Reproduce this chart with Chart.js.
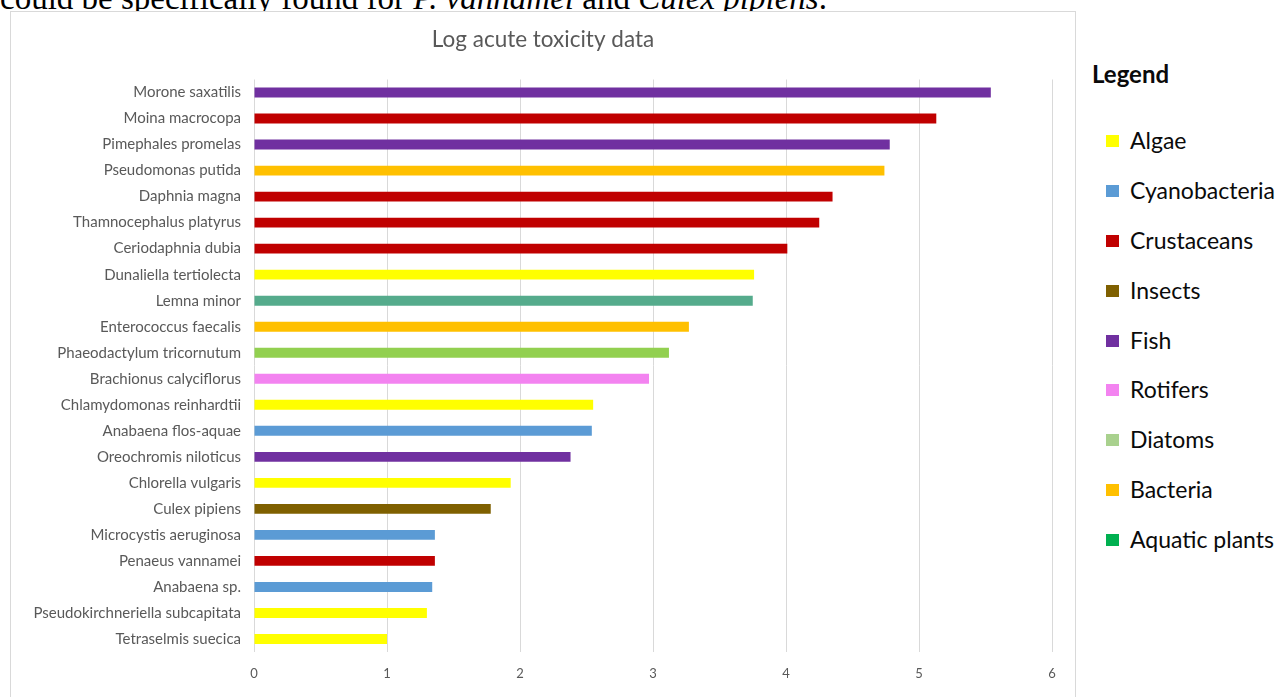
<!DOCTYPE html>
<html>
<head>
<meta charset="utf-8">
<script src="https://cdn.jsdelivr.net/npm/chart.js@4/dist/chart.umd.min.js"></script>
<style>
  html, body { margin: 0; padding: 0; background: #ffffff; overflow: hidden; }
  body { width: 1282px; height: 697px; position: relative; }
  #caption {
    position: absolute; left: 0; top: -17px; white-space: nowrap;
    font-family: "Liberation Serif", "DejaVu Serif", serif; font-size: 33px; line-height: 30px; color: #000;
  }
  #caption i { font-style: italic; }
  #box {
    position: absolute; left: 10px; top: 11px; width: 1064px; height: 700px;
    border: 1px solid #d9d9d9; background: #fff;
  }
  #chart { display: block; }
  #legend {
    position: absolute; left: 1092px; top: 58px;
    font-family: Lato, "Open Sans", sans-serif; color: #0a0a0a;
  }
  #legend h3 { margin: 0; font-size: 24px; font-weight: bold; line-height: 32px; height: 32px; }
  #legend ul { list-style: none; margin: 0; padding: 0; position: absolute; top: 58px; left: 0; }
  #legend li { height: 49.9px; line-height: 49.9px; font-size: 23px; white-space: nowrap; position: relative; padding-left: 38px; }
  #legend li span.sw { position: absolute; left: 14px; top: 19px; width: 13px; height: 12px; }
</style>
</head>
<body>
<div id="caption">could be specifically found for <i>P. vannamei</i> and <i>Culex pipiens</i>.</div>
<div id="box"><canvas id="chart" width="1064" height="685"></canvas></div>
<div id="legend"><h3>Legend</h3><ul id="legendList"></ul></div>
<script>
// Species, ordered from the highest to the lowest log toxicity value
const species = [
  "Morone saxatilis",
  "Moina macrocopa",
  "Pimephales promelas",
  "Pseudomonas putida",
  "Daphnia magna",
  "Thamnocephalus platyrus",
  "Ceriodaphnia dubia",
  "Dunaliella tertiolecta",
  "Lemna minor",
  "Enterococcus faecalis",
  "Phaeodactylum tricornutum",
  "Brachionus calyciflorus",
  "Chlamydomonas reinhardtii",
  "Anabaena flos-aquae",
  "Oreochromis niloticus",
  "Chlorella vulgaris",
  "Culex pipiens",
  "Microcystis aeruginosa",
  "Penaeus vannamei",
  "Anabaena sp.",
  "Pseudokirchneriella subcapitata",
  "Tetraselmis suecica"
];

// Log acute toxicity per species
const logToxicity = [
  5.54, 5.13, 4.78, 4.74, 4.35, 4.25, 4.01, 3.76, 3.75, 3.27, 3.12,
  2.97, 2.55, 2.54, 2.38, 1.93, 1.78, 1.36, 1.36, 1.34, 1.30, 1.00
];

// Bar fill per species (by organism group)
const barColors = [
  "#7030A0", "#C00000", "#7030A0", "#FFC000", "#C00000", "#C00000", "#C00000",
  "#FFFF00", "#55AB8C", "#FFC000", "#92D050", "#F383F0", "#FFFF00", "#5B9BD5",
  "#7030A0", "#FFFF00", "#7F6000", "#5B9BD5", "#C00000", "#5B9BD5", "#FFFF00",
  "#FFFF00"
];

// Organism groups shown in the legend
const groupNames = [
  "Algae", "Cyanobacteria", "Crustaceans", "Insects", "Fish",
  "Rotifers", "Diatoms", "Bacteria", "Aquatic plants"
];
const groupColors = [
  "#FFFF00", "#5B9BD5", "#C00000", "#7F6000", "#7030A0",
  "#F383F0", "#A9D18E", "#FFC000", "#00B050"
];

// Value axis range
const axisMin = 0;
const axisMax = 6;
const axisStep = 1;

const list = document.getElementById("legendList");
groupNames.forEach((name, i) => {
  const li = document.createElement("li");
  const sw = document.createElement("span");
  sw.className = "sw";
  sw.style.background = groupColors[i];
  li.appendChild(sw);
  li.appendChild(document.createTextNode(name));
  list.appendChild(li);
});

const textGrey = "#595959";
const gridGrey = "#d9d9d9";

new Chart(document.getElementById("chart"), {
  type: "bar",
  data: {
    labels: species,
    datasets: [{
      data: logToxicity,
      backgroundColor: barColors,
      borderWidth: 0,
      barPercentage: 0.38,
      categoryPercentage: 1.0
    }]
  },
  options: {
    indexAxis: "y",
    responsive: false,
    animation: false,
    devicePixelRatio: 1,
    layout: { padding: { left: 23, right: 23, top: 0, bottom: 0 } },
    plugins: {
      legend: { display: false },
      tooltip: { enabled: false },
      title: {
        display: true,
        text: "Log acute toxicity data",
        color: textGrey,
        font: { family: "Lato", size: 22.5, weight: "normal", lineHeight: 1.2 },
        padding: { top: 14.5, bottom: 26 }
      }
    },
    scales: {
      x: {
        min: axisMin,
        max: axisMax,
        ticks: {
          stepSize: axisStep,
          color: textGrey,
          font: { family: "Lato", size: 13 },
          padding: 14
        },
        grid: { color: gridGrey, lineWidth: 1, drawTicks: false },
        border: { display: false },
        afterFit: (axis) => { axis.height = 45; }
      },
      y: {
        ticks: {
          autoSkip: false,
          color: textGrey,
          font: { family: "Lato", size: 15 },
          padding: 13
        },
        grid: { display: false, drawTicks: false },
        border: { display: false },
        afterFit: (axis) => { axis.width = 220; }
      }
    }
  }
});
</script>
</body>
</html>
